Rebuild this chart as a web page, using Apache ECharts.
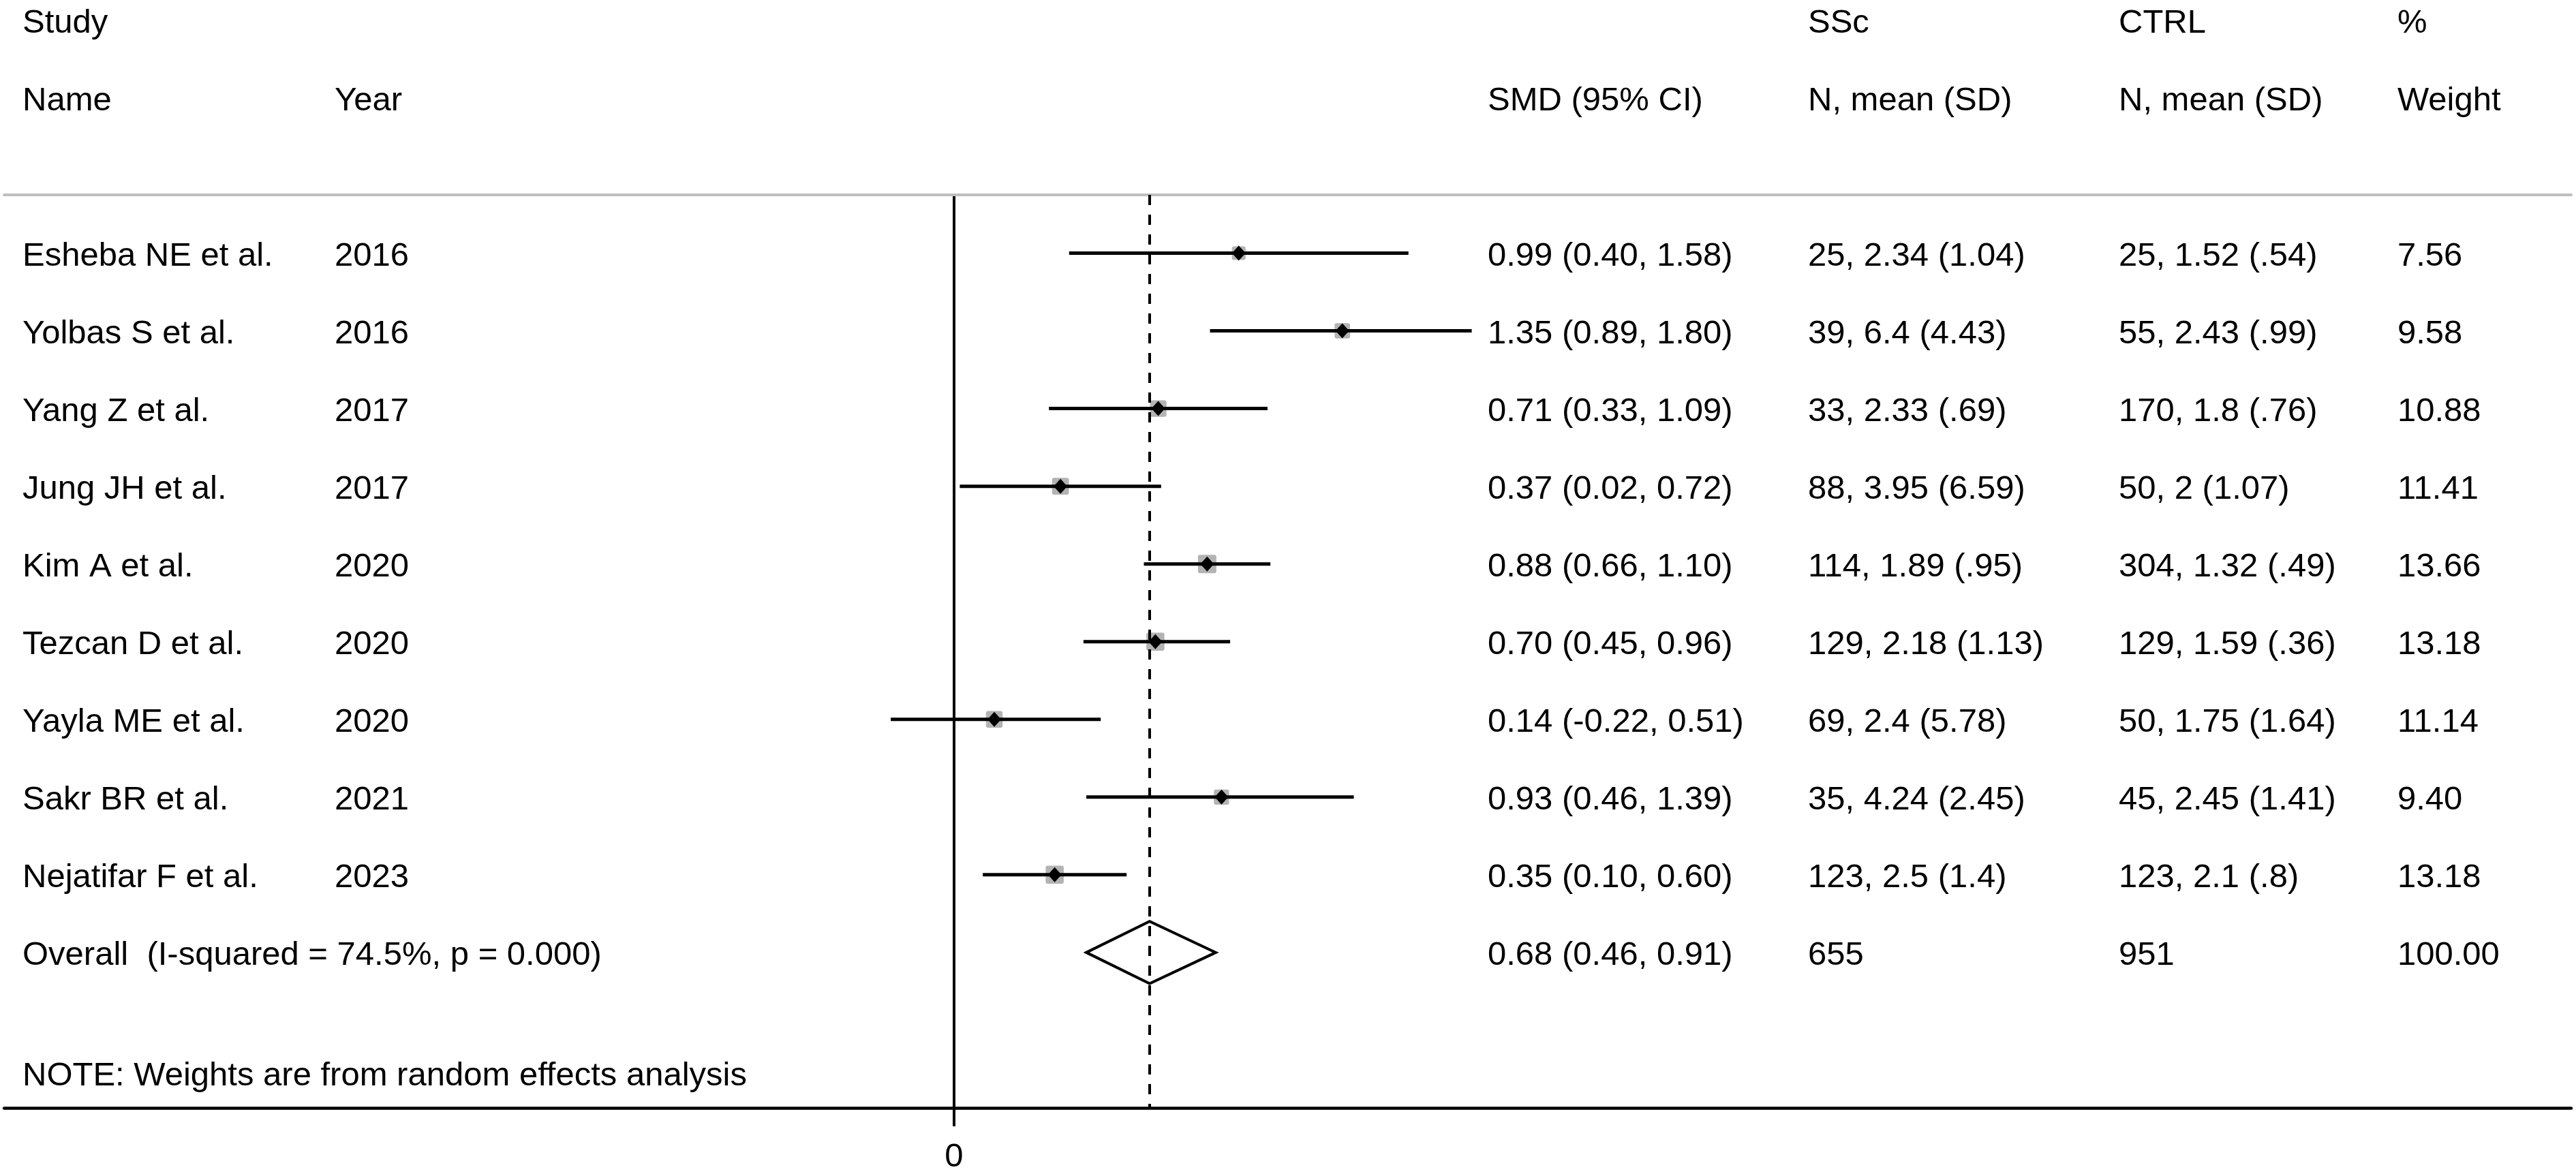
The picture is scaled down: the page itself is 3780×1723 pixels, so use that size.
<!DOCTYPE html>
<html>
<head>
<meta charset="utf-8">
<title>Forest plot - SMD SSc vs CTRL</title>
<script src="https://cdn.jsdelivr.net/npm/echarts@6/dist/echarts.min.js"></script>
<style>
html, body { margin: 0; padding: 0; background: #fff; }
#chart { width: 3780px; height: 1723px; }
</style>
</head>
<body>
<div id="chart"></div>
<script>
// study data
var studies = ['Esheba NE et al.', 'Yolbas S et al.', 'Yang Z et al.', 'Jung JH et al.', 'Kim A et al.',
               'Tezcan D et al.', 'Yayla ME et al.', 'Sakr BR et al.', 'Nejatifar F et al.'];
var years   = ['2016', '2016', '2017', '2017', '2020', '2020', '2020', '2021', '2023'];
var smd     = [0.99, 1.35, 0.71, 0.37, 0.88, 0.70, 0.14, 0.93, 0.35];
var lower   = [0.40, 0.89, 0.33, 0.02, 0.66, 0.45, -0.22, 0.46, 0.10];
var upper   = [1.58, 1.80, 1.09, 0.72, 1.10, 0.96, 0.51, 1.39, 0.60];
var sscText = ['25, 2.34 (1.04)', '39, 6.4 (4.43)', '33, 2.33 (.69)', '88, 3.95 (6.59)', '114, 1.89 (.95)',
               '129, 2.18 (1.13)', '69, 2.4 (5.78)', '35, 4.24 (2.45)', '123, 2.5 (1.4)'];
var ctrlText = ['25, 1.52 (.54)', '55, 2.43 (.99)', '170, 1.8 (.76)', '50, 2 (1.07)', '304, 1.32 (.49)',
                '129, 1.59 (.36)', '50, 1.75 (1.64)', '45, 2.45 (1.41)', '123, 2.1 (.8)'];
var weights = [7.56, 9.58, 10.88, 11.41, 13.66, 13.18, 11.14, 9.40, 13.18];

// pooled estimate
var overallLabel = 'Overall  (I-squared = 74.5%, p = 0.000)';
var overallSmd = 0.68, overallLower = 0.46, overallUpper = 0.91;
var overallSsc = '655', overallCtrl = '951', overallWeight = 100.00;
var noteText = 'NOTE: Weights are from random effects analysis';

// header rows
var headTop = ['Study', '', '', 'SSc', 'CTRL', '%'];
var headBottom = ['Name', 'Year', 'SMD (95% CI)', 'N, mean (SD)', 'N, mean (SD)', 'Weight'];
var xTicks = [0];

// layout (pixels)
var colX = [33, 491, 2183, 2653, 3109, 3518];
var FONT = '"Liberation Sans", Arial, sans-serif';
var FS = 49;
var TEXT_DY = 5;
var overallRow = studies.length;
var noteRow = 10.55;

function ci(e, l, u) {
    return e.toFixed(2) + ' (' + l.toFixed(2) + ', ' + u.toFixed(2) + ')';
}

// text cells: [row, col, text]
var cells = [];
headTop.forEach(function (t, c) { if (t) cells.push([-3, c, t]); });
headBottom.forEach(function (t, c) { cells.push([-2, c, t]); });
for (var i = 0; i < studies.length; i++) {
    cells.push([i, 0, studies[i]]);
    cells.push([i, 1, years[i]]);
    cells.push([i, 2, ci(smd[i], lower[i], upper[i])]);
    cells.push([i, 3, sscText[i]]);
    cells.push([i, 4, ctrlText[i]]);
    cells.push([i, 5, weights[i].toFixed(2)]);
}
cells.push([overallRow, 0, overallLabel]);
cells.push([overallRow, 2, ci(overallSmd, overallLower, overallUpper)]);
cells.push([overallRow, 3, overallSsc]);
cells.push([overallRow, 4, overallCtrl]);
cells.push([overallRow, 5, overallWeight.toFixed(2)]);
cells.push([noteRow, 0, noteText]);

var studyData = smd.map(function (v, i) { return [v, i, lower[i], upper[i], weights[i]]; });

var chart = echarts.init(document.getElementById('chart'));

var option = {
    animation: false,
    backgroundColor: '#fff',
    grid: { left: 6, right: 7, top: 286, bottom: 93 },
    xAxis: [{
        type: 'value', position: 'bottom', min: -3.303, max: 5.623,
        axisLine: { onZero: false, lineStyle: { color: '#000', width: 4.5 } },
        axisTick: { customValues: xTicks, length: 27, lineStyle: { color: '#000', width: 4 } },
        axisLabel: { customValues: xTicks, margin: 48, color: '#000', fontSize: FS, fontFamily: FONT },
        splitLine: { show: false }
    }, {
        type: 'value', position: 'top', min: -3.303, max: 5.623,
        axisLine: { onZero: false, lineStyle: { color: '#bebebe', width: 4 } },
        axisTick: { show: false }, axisLabel: { show: false }, splitLine: { show: false }
    }],
    yAxis: {
        type: 'value', inverse: true, min: -0.75, max: 11,
        axisLine: { show: true, onZero: true, lineStyle: { color: '#000', width: 4 } },
        axisTick: { show: false }, axisLabel: { show: false }, splitLine: { show: false }
    },
    series: [{
        // study CIs, weight boxes and point estimates
        type: 'custom',
        clip: false,
        data: studyData,
        renderItem: function (params, api) {
            var row = api.value(1);
            var c = api.coord([api.value(0), row]);
            var l = api.coord([api.value(2), row]);
            var u = api.coord([api.value(3), row]);
            var s = 7.3 * Math.sqrt(api.value(4));
            return {
                type: 'group',
                children: [{
                    type: 'rect',
                    shape: { x: c[0] - s / 2, y: c[1] - s / 2, width: s, height: s, r: 3 },
                    style: { fill: '#b3b3b3' }
                }, {
                    type: 'line',
                    shape: { x1: l[0], y1: l[1], x2: u[0], y2: u[1] },
                    style: { stroke: '#000', lineWidth: 5 }
                }, {
                    type: 'polygon',
                    shape: { points: [[c[0] - 10, c[1]], [c[0], c[1] - 11], [c[0] + 10, c[1]], [c[0], c[1] + 11]] },
                    style: { fill: '#000' }
                }]
            };
        },
        markLine: {
            silent: true,
            symbol: 'none',
            label: { show: false },
            lineStyle: { color: '#000', width: 4, type: [15, 14] },
            data: [{ xAxis: overallSmd }]
        },
        z: 3
    }, {
        // pooled diamond
        type: 'custom',
        clip: false,
        data: [[overallSmd, overallRow, overallLower, overallUpper]],
        renderItem: function (params, api) {
            var row = api.value(1);
            var top = api.coord([api.value(0), row - 0.4]);
            var bot = api.coord([api.value(0), row + 0.4]);
            var l = api.coord([api.value(2), row]);
            var u = api.coord([api.value(3), row]);
            return {
                type: 'polygon',
                shape: { points: [l, top, u, bot] },
                style: { fill: 'none', stroke: '#000', lineWidth: 4 }
            };
        },
        z: 3
    }, {
        // table text
        type: 'custom',
        clip: false,
        data: cells.map(function (c) { return [0, c[0]]; }),
        renderItem: function (params, api) {
            var cell = cells[params.dataIndex];
            var p = api.coord([0, api.value(1)]);
            return {
                type: 'text',
                x: colX[cell[1]],
                y: p[1] + TEXT_DY,
                style: {
                    text: cell[2],
                    fill: '#000',
                    font: FS + 'px ' + FONT,
                    textAlign: 'left',
                    textVerticalAlign: 'middle'
                }
            };
        },
        z: 4
    }]
};

chart.setOption(option);
</script>
</body>
</html>
